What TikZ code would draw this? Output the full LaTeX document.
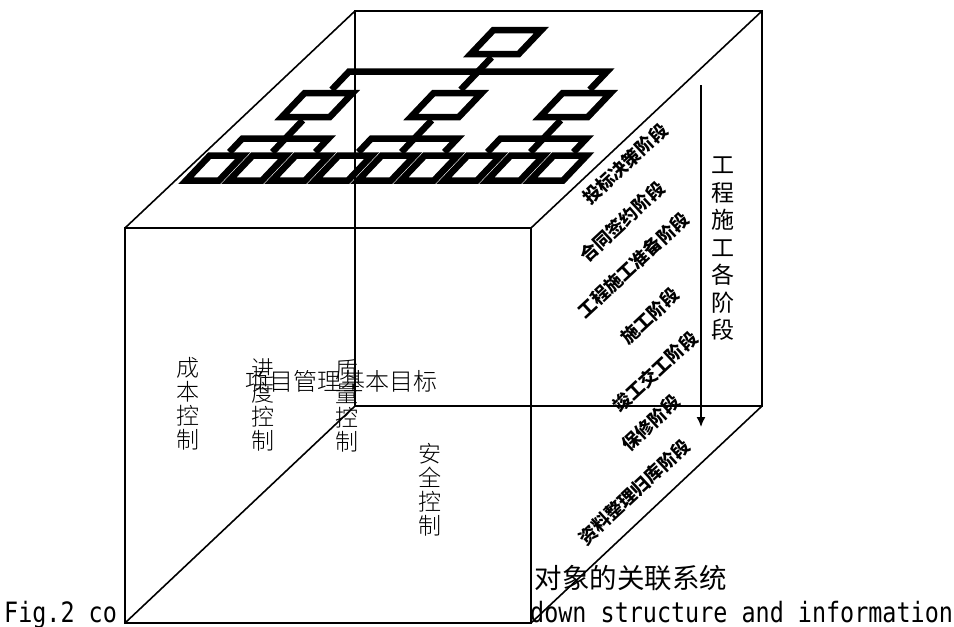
\documentclass[tikz,border=0pt]{standalone}
\usepackage{fontspec}
\usetikzlibrary{arrows.meta}
\newfontfamily\cjk{Noto Sans CJK SC}
\newfontfamily\cjkl{Noto Sans CJK SC Light}
\newfontfamily\figmono{DejaVu Sans Mono}[FakeStretch=0.836]
\tikzset{
  cubeedge/.style={line width=1.6pt},
  orgline/.style={line width=6.5pt},
  bigbox/.style={draw, line width=6.5pt, inner sep=0pt, minimum width=48pt, minimum height=24pt, transform shape},
  smallbox/.style={draw, line width=6.5pt, inner sep=0pt, minimum width=33pt, minimum height=25pt, transform shape},
  stagelabel/.style={font={\cjk\bfseries\fontsize{18}{18}\selectfont}, rotate=43, inner sep=0pt},
  ctrllabel/.style={font={\cjkl\fontsize{23}{24}\selectfont}, align=center, inner sep=0pt},
  phaselabel/.style={font={\cjk\fontsize{23}{27.5}\selectfont}, align=center, inner sep=0pt},
  flowarrow/.style={line width=1.5pt, -{Latex[length=10pt,width=9pt]}}
}
\begin{document}
\begin{tikzpicture}[x=1pt,y=-1pt]
\useasboundingbox (0,0) rectangle (954,627);
\fill[white] (0,0) rectangle (954,627);

% caption fragments
\node[font={\figmono\fontsize{28}{28}\selectfont}, anchor=base west, inner sep=0pt] (figA) at (4,622) {Fig.2 co};
\node[font={\figmono\fontsize{28}{28}\selectfont}, anchor=base west, inner sep=0pt] (figB) at (530,622) {down structure and information};
\node[font={\cjk\fontsize{27.5}{27.5}\selectfont}, inner sep=0pt] (capcn) at (631,578) {对象的关联系统};

% cube corners
\coordinate (F1) at (125,228);
\coordinate (F2) at (531,228);
\coordinate (F3) at (531,623);
\coordinate (F4) at (125,623);
\coordinate (B1) at (355,11);
\coordinate (B2) at (762,11);
\coordinate (B3) at (762,406);
\coordinate (B4) at (355,406);
\draw[cubeedge] (F1) -- (F2) -- (F3) -- (F4) -- cycle;
\draw[cubeedge] (B1) -- (B2) -- (B3) -- (B4) -- cycle;
\draw[cubeedge] (B1) -- (F1);
\draw[cubeedge] (B2) -- (F2);
\draw[cubeedge] (B3) -- (F3);
\draw[cubeedge] (B4) -- (F4);

% org chart on top face
\begin{scope}[xslant=0.95]
  \node[bigbox] (R) at (546,42) {};
  \node[bigbox] (A) at (417,105) {};
  \node[bigbox] (B) at (546,105) {};
  \node[bigbox] (C) at (675,105) {};
  \coordinate (barL) at (417,71.5);
  \coordinate (barM) at (546,71.5);
  \coordinate (barR) at (675,71.5);
  \draw[orgline] (R.south) -- (barM);
  \draw[orgline] (A.north) -- (barL) -- (barR) -- (C.north);
  \draw[orgline] (barM) -- (B.north);
  \foreach \p/\g in {A/417, B/546, C/675} {
    \node[smallbox] (\p1) at (\g-43,168) {};
    \node[smallbox] (\p2) at (\g,168) {};
    \node[smallbox] (\p3) at (\g+43,168) {};
    \coordinate (\p bl) at (\g-43,138.5);
    \coordinate (\p bm) at (\g,138.5);
    \coordinate (\p br) at (\g+43,138.5);
    \draw[orgline] (\p.south) -- (\p bm);
    \draw[orgline] (\p1.north) -- (\p bl) -- (\p br) -- (\p3.north);
    \draw[orgline] (\p bm) -- (\p2.north);
  }
\end{scope}

% stage labels
\node[stagelabel] (s1) at (625,164) {投标决策阶段};
\node[stagelabel] (s2) at (622,222) {合同签约阶段};
\node[stagelabel] (s3) at (633,265) {工程施工准备阶段};
\node[stagelabel] (s4) at (650,316) {施工阶段};
\node[stagelabel] (s5) at (655,372) {竣工交工阶段};
\node[stagelabel] (s6) at (651,423) {保修阶段};
\node[stagelabel] (s7) at (634,492) {资料整理归库阶段};

% phase arrow
\coordinate (arrS) at (701,85);
\coordinate (arrE) at (701,427);
\draw[flowarrow] (arrS) -- (arrE);
\node[phaselabel] (phase) at (723,249) {工\\程\\施\\工\\各\\阶\\段};

% control labels
\node[ctrllabel] (cost) at (188,404) {成\\本\\控\\制};
\node[ctrllabel] (prog) at (263,405) {进\\度\\控\\制};
\node[ctrllabel] (qual) at (347,406) {质\\量\\控\\制};
\node[ctrllabel] (safe) at (430,490) {安\\全\\控\\制};
\node[font={\cjkl\fontsize{24}{24}\selectfont}, inner sep=0pt] (goal) at (341,381) {项目管理基本目标};
\end{tikzpicture}
\end{document}
